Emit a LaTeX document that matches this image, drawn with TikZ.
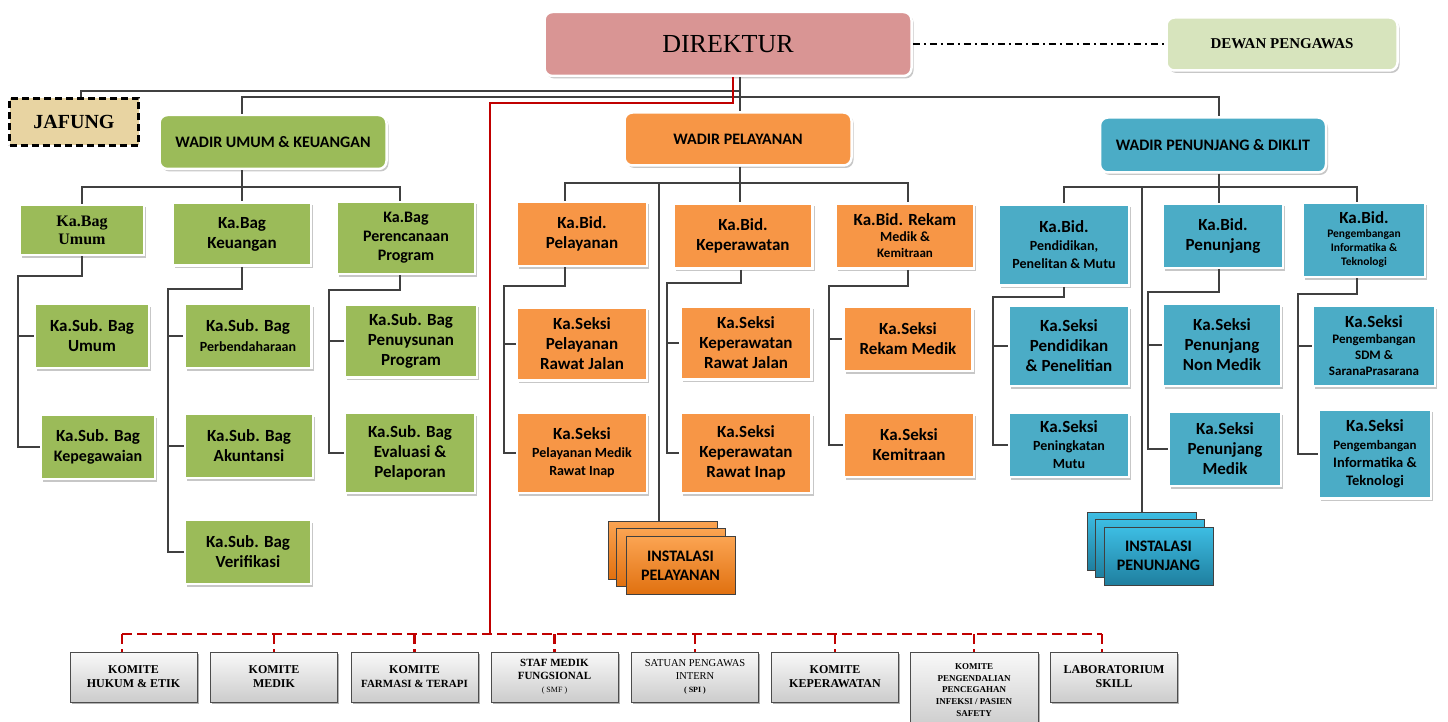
\documentclass[tikz,border=0pt]{standalone}
\usepackage{fontspec}
\setmainfont{Liberation Serif}
\setsansfont{Carlito}
\usetikzlibrary{shadows}

\definecolor{pinkdir}{HTML}{D99594}
\definecolor{hijaumuda}{HTML}{D7E4BD}
\definecolor{hijau}{HTML}{9BBB59}
\definecolor{oranye}{HTML}{F79646}
\definecolor{oranyeatas}{HTML}{FBA452}
\definecolor{oranyebawah}{HTML}{E0700F}
\definecolor{biru}{HTML}{4BACC6}
\definecolor{biruatas}{HTML}{3DBDE3}
\definecolor{birubawah}{HTML}{1F7F9F}
\definecolor{krem}{HTML}{E8D4A2}
\definecolor{abu}{HTML}{404040}
\definecolor{merah}{HTML}{C00000}

\newcommand{\fsz}[2]{\fontsize{#1}{#2}\selectfont}

\tikzset{
  sz/.style 2 args={minimum width=#1pt, minimum height=#2pt},
  kotak/.style={rectangle, draw=white, line width=2.5pt, align=center, inner sep=1pt,
    font=\sffamily\bfseries\fsz{17}{20},
    drop shadow={shadow xshift=2pt, shadow yshift=-2.5pt, fill=black, opacity=0.22}},
  wadir/.style={kotak, rounded corners=8pt, font=\sffamily\bfseries\fsz{16}{19}},
  umum/.style={kotak, fill=hijau},
  pel/.style={kotak, fill=oranye},
  pen/.style={kotak, fill=biru},
  jafungbox/.style={rectangle, fill=krem, draw=black, line width=2.2pt, dash pattern=on 7pt off 4pt,
    sz={129}{47}, font=\rmfamily\bfseries\fsz{20}{24}},
  instalasi/.style={rectangle, draw=black!75, line width=0.8pt, sz={109}{58}, align=center,
    font=\sffamily\bfseries\fsz{16}{19}},
  inspel/.style={instalasi, top color=oranyeatas, bottom color=oranyebawah},
  inspen/.style={instalasi, top color=biruatas, bottom color=birubawah},
  komite/.style={rectangle, draw=black!70, line width=1pt, top color=gray!5, bottom color=gray!40,
    sz={127}{50}, align=center, inner sep=1pt, font=\rmfamily\bfseries\fsz{12}{14},
    drop shadow={shadow xshift=1.5pt, shadow yshift=-2pt, fill=black, opacity=0.3}},
  hubung/.style={draw=abu, line width=1.2pt},
  garismerah/.style={draw=merah, line width=2.2pt},
  merahputus/.style={garismerah, dash pattern=on 10pt off 5pt},
}

\begin{document}
\begin{tikzpicture}[x=1pt, y=-1pt]
\useasboundingbox (0,0) rectangle (1448,722);
\fill[white] (0,0) rectangle (1448,722);
\clip (0,0) rectangle (1448,722);

% pimpinan
\node[kotak, rounded corners=8pt, fill=pinkdir, sz={367}{64}, font=\rmfamily\fsz{26}{30}] (direktur) at (728,44) {DIREKTUR};
\node[kotak, rounded corners=8pt, fill=hijaumuda, sz={231}{53}, font=\rmfamily\bfseries\fsz{15}{18}] (dewan) at (1282,44) {DEWAN PENGAWAS};
\node[jafungbox] (jafung) at (74,122) {JAFUNG};
\node[wadir, fill=hijau, sz={227}{54}] (wumum) at (273,142) {WADIR UMUM \& KEUANGAN};
\node[wadir, fill=oranye, sz={227}{53}] (wpel) at (738,139) {WADIR PELAYANAN};
\node[wadir, fill=biru, sz={226}{55}] (wpen) at (1213,145) {WADIR PENUNJANG \& DIKLIT};

% umum & keuangan
\node[umum, sz={124}{50}, font=\rmfamily\bfseries\fsz{16}{18}] (kbumum) at (82,230) {Ka.Bag\\Umum};
\node[umum, sz={138}{63}] (kbkeu) at (242,234) {Ka.Bag\\Keuangan};
\node[umum, sz={138}{72}, font=\sffamily\bfseries\fsz{16}{19}] (kbren) at (406,238) {Ka.Bag\\Perencanaan\\Program};
\node[umum, sz={114}{64}] (ksumum) at (92,336) {Ka.Sub. Bag\\Umum};
\node[umum, sz={114}{64}] (kskepeg) at (98,447) {Ka.Sub. Bag\\\fsz{16}{19}Kepegawaian};
\node[umum, sz={127}{64}] (ksperb) at (248,336) {Ka.Sub. Bag\\\fsz{14}{17}Perbendaharaan};
\node[umum, sz={128}{64}] (ksakun) at (249,446) {Ka.Sub. Bag\\Akuntansi};
\node[umum, sz={126}{64}] (ksver) at (248,552) {Ka.Sub. Bag\\Verifikasi};
\node[umum, sz={132}{73}] (kspen) at (411,341) {Ka.Sub. Bag\\Penuysunan\\Program};
\node[umum, sz={130}{80}] (kseval) at (410,453) {Ka.Sub. Bag\\Evaluasi \&\\Pelaporan};

% pelayanan
\node[pel, sz={130}{64}] (kbpel) at (582,234) {Ka.Bid.\\Pelayanan};
\node[pel, sz={139}{65}] (kbkep) at (743,236) {Ka.Bid.\\Keperawatan};
\node[pel, sz={138}{65}, font=\sffamily\bfseries\fsz{14}{16}] (kbrek) at (905,236) {\fsz{17}{20}Ka.Bid. Rekam\\Medik \&\\\fsz{13}{16}Kemitraan};
\node[pel, sz={130}{73}] (kspelrj) at (582,344) {Ka.Seksi\\Pelayanan\\Rawat Jalan};
\node[pel, sz={130}{80}, font=\sffamily\bfseries\fsz{14}{18}] (kspelri) at (582,453) {\fsz{17}{20}Ka.Seksi\\Pelayanan Medik\\Rawat Inap};
\node[pel, sz={131}{73}] (kskeprj) at (746,343) {Ka.Seksi\\Keperawatan\\Rawat Jalan};
\node[pel, sz={131}{80}] (kskepri) at (746,453) {Ka.Seksi\\Keperawatan\\Rawat Inap};
\node[pel, sz={129}{64}] (ksrek) at (908,339) {Ka.Seksi\\Rekam Medik};
\node[pel, sz={130}{64}] (ksmitra) at (909,445) {Ka.Seksi\\Kemitraan};
\node[inspel] (inspelb) at (662.5,550) {};
\node[inspel] (inspelm) at (670.5,557.5) {};
\node[inspel] (inspelf) at (680.5,565.5) {INSTALASI\\PELAYANAN};

% penunjang & diklit
\node[pen, sz={130}{81}, font=\sffamily\bfseries\fsz{14}{18}] (kbpend) at (1064,245) {\fsz{17}{20}Ka.Bid.\\Pendidikan,\\Penelitan \& Mutu};
\node[pen, sz={120}{64}] (kbpenunj) at (1223,236) {Ka.Bid.\\Penunjang};
\node[pen, sz={122}{74}, font=\sffamily\bfseries\fsz{11.5}{14}] (kbpeng) at (1364,240) {\fsz{17}{20}Ka.Bid.\\Pengembangan\\Informatika \&\\Teknologi};
\node[pen, sz={120}{80}] (kspend) at (1069,346) {Ka.Seksi\\Pendidikan\\\& Penelitian};
\node[pen, sz={120}{64}, font=\sffamily\bfseries\fsz{14}{18}] (ksmutu) at (1069,445) {\fsz{17}{20}Ka.Seksi\\Peningkatan\\Mutu};
\node[pen, sz={118}{82}] (ksnonmed) at (1222,345) {Ka.Seksi\\Penunjang\\Non Medik};
\node[pen, sz={112}{74}] (ksmed) at (1225,449) {Ka.Seksi\\Penunjang\\Medik};
\node[pen, sz={122}{80}, font=\sffamily\bfseries\fsz{13}{16}] (kssdm) at (1374,346) {\fsz{17}{20}Ka.Seksi\\Pengembangan\\SDM \&\\SaranaPrasarana};
\node[pen, sz={112}{89}, font=\sffamily\bfseries\fsz{14.5}{18}] (ksinfo) at (1375,454) {\fsz{17}{20}Ka.Seksi\\\fsz{13}{16}Pengembangan\\Informatika \&\\Teknologi};
\node[inspen] (inspenb) at (1142,541) {};
\node[inspen] (inspenm) at (1149.5,548) {};
\node[inspen] (inspenf) at (1158.5,556) {INSTALASI\\PENUNJANG};

% komite
\node[komite] (k1) at (133.5,677) {KOMITE\\HUKUM \& ETIK};
\node[komite] (k2) at (274,677) {KOMITE\\MEDIK};
\node[komite, font=\rmfamily\bfseries\fsz{11}{14}] (k3) at (414.5,677) {\fsz{12}{14}KOMITE\\FARMASI \& TERAPI};
\node[komite, font=\rmfamily\bfseries\fsz{11}{13}] (k4) at (554.5,677) {STAF MEDIK\\FUNGSIONAL\\\mdseries\fsz{8}{10}( SMF )};
\node[komite, font=\rmfamily\fsz{10.5}{13}] (k5) at (695,677) {SATUAN PENGAWAS\\INTERN\\\bfseries\fsz{8}{10}( SPI )};
\node[komite] (k6) at (835,677) {KOMITE\\KEPERAWATAN};
\node[komite, sz={128}{76}, font=\rmfamily\bfseries\fsz{9}{11.7}] (k7) at (974,690) {KOMITE\\PENGENDALIAN\\PENCEGAHAN\\INFEKSI / PASIEN\\SAFETY};
\node[komite] (k8) at (1114,677) {LABORATORIUM\\SKILL};

% garis direktur
\draw[black, line width=1.5pt, dash pattern=on 7pt off 4pt on 2pt off 4pt] (direktur.east) -- (dewan.west);
\coordinate (bus1) at (740,91);
\coordinate (bus2) at (740,97);
\draw[hubung] ([xshift=12pt]direktur.south) -- ([xshift=12pt]direktur.south |- wpel.north);
\draw[hubung] (bus1) -| ([xshift=7pt]jafung.north);
\draw[hubung] ([xshift=-31pt]wumum.north) |- (bus2) -| ([xshift=6pt]wpen.north);

% garis komite
\coordinate (mbelok) at (490,103);
\coordinate (rl) at (122,634);
\coordinate (rr) at (1102,634);
\draw[garismerah] ([xshift=5pt]direktur.south) |- (mbelok) -- (mbelok |- rl);
\draw[merahputus] (rl) -- (rr);
\draw[merahputus] (rl) -- (rl |- k1.north);
\draw[merahputus] (rr) -- (rr |- k8.north);
\foreach \k in {k2,k3,k4,k5,k6,k7}
  \draw[merahputus] (\k.north |- rl) -- (\k.north);

% garis umum & keuangan
\coordinate (gbus) at (242,187);
\draw[hubung] ([xshift=-31pt]wumum.south) -- (kbkeu.north);
\draw[hubung] (kbumum.north) |- (gbus) -| ([xshift=-6pt]kbren.north);
\coordinate (sp1) at (18,276);
\draw[hubung] (kbumum.south) |- (sp1) |- (kskepeg.west);
\draw[hubung] (sp1 |- ksumum.west) -- (ksumum.west);
\coordinate (sp2) at (168,289);
\draw[hubung] (kbkeu.south) |- (sp2) |- (ksver.west);
\foreach \n in {ksperb,ksakun}
  \draw[hubung] (sp2 |- \n.west) -- (\n.west);
\coordinate (sp3) at (329,290);
\draw[hubung] ([xshift=-6pt]kbren.south) |- (sp3) |- (kseval.west);
\draw[hubung] (sp3 |- kspen.west) -- (kspen.west);

% garis pelayanan
\coordinate (obus) at (740,183);
\coordinate (oins) at (659,183);
\draw[hubung] ([xshift=2pt]wpel.south) -- ([xshift=2pt]wpel.south |- kbkep.north);
\draw[hubung] ([xshift=-17pt]kbpel.north) |- (obus) -| ([xshift=3pt]kbrek.north);
\draw[hubung] (oins) -- (oins |- inspelb.north);
\coordinate (sp4) at (504,286);
\draw[hubung] ([xshift=-17pt]kbpel.south) |- (sp4) |- (kspelri.west);
\draw[hubung] (sp4 |- kspelrj.west) -- (kspelrj.west);
\coordinate (sp5) at (667,283);
\draw[hubung] ([xshift=-2pt]kbkep.south) |- (sp5) |- (kskepri.west);
\draw[hubung] (sp5 |- kskeprj.west) -- (kskeprj.west);
\coordinate (sp6) at (829,286);
\draw[hubung] ([xshift=3pt]kbrek.south) |- (sp6) |- (ksmitra.west);
\draw[hubung] (sp6 |- ksrek.west) -- (ksrek.west);

% garis penunjang & diklit
\coordinate (bbus) at (1219,187);
\coordinate (bins) at (1142,187);
\draw[hubung] ([xshift=6pt]wpen.south) -- ([xshift=6pt]wpen.south |- kbpenunj.north);
\draw[hubung] (kbpend.north) |- (bbus) -| ([xshift=-7pt]kbpeng.north);
\draw[hubung] (bins) -- (bins |- inspenb.north);
\coordinate (sp7) at (993,297);
\draw[hubung] (kbpend.south) |- (sp7) |- (ksmutu.west);
\draw[hubung] (sp7 |- kspend.west) -- (kspend.west);
\coordinate (sp8) at (1148,292);
\draw[hubung] ([xshift=-4pt]kbpenunj.south) |- (sp8) |- (ksmed.west);
\draw[hubung] (sp8 |- ksnonmed.west) -- (ksnonmed.west);
\coordinate (sp9) at (1298,294);
\draw[hubung] ([xshift=-7pt]kbpeng.south) |- (sp9) |- (ksinfo.west);
\draw[hubung] (sp9 |- kssdm.west) -- (kssdm.west);
\end{tikzpicture}
\end{document}
